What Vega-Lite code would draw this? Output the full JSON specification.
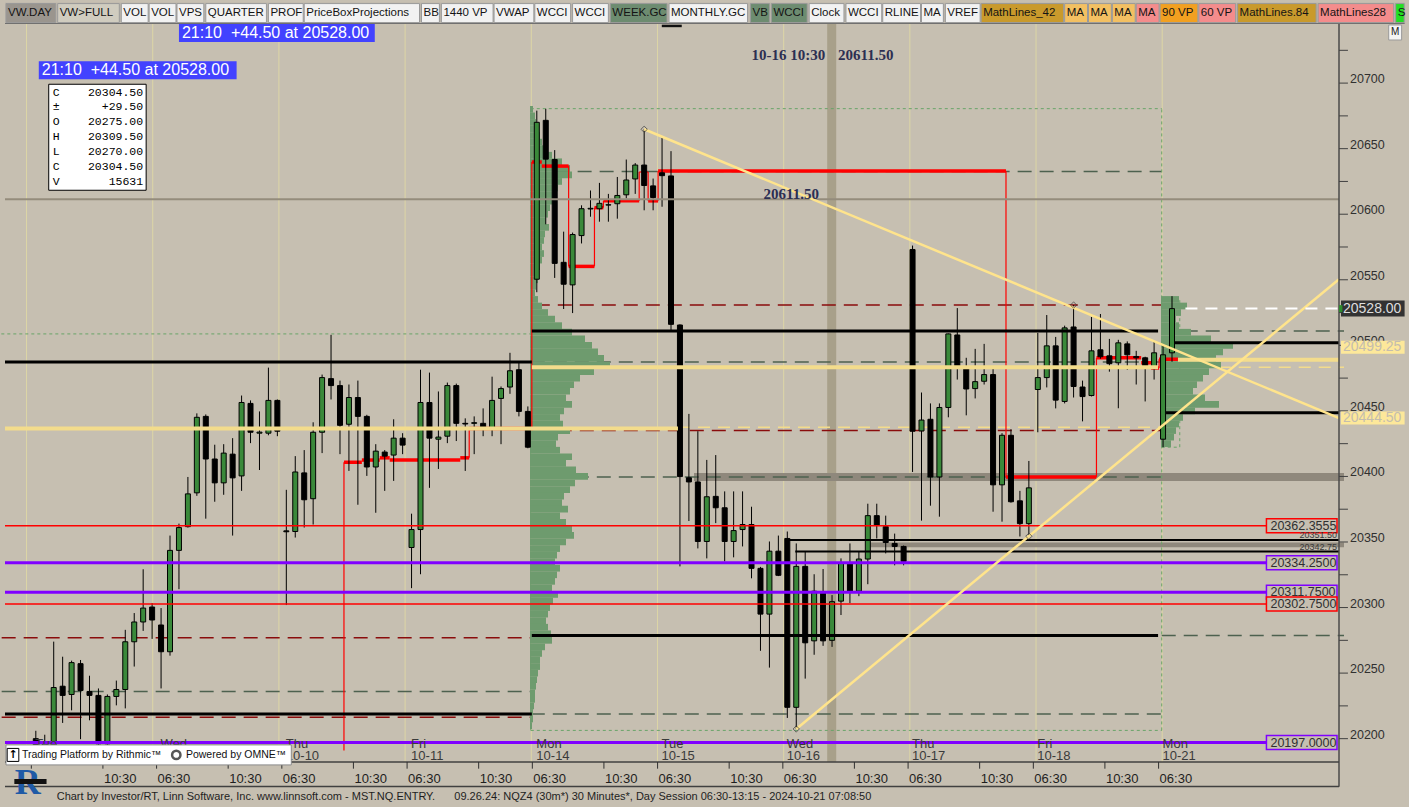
{
"$schema": "https://vega.github.io/schema/vega-lite/v6.json",
"width": 1409, "height": 807,
"autosize": {"type": "fit", "contains": "padding"},
"padding": 0,
"background": "#c6bfb1",
"config": {"view": {"stroke": null, "fill": "#c6bfb1"}, "font": "Liberation Sans"},
"datasets": {
"candles": [
{"n":0,"o":20200,"h":20206,"l":20184,"c":20193},
{"n":1,"o":20190,"h":20203,"l":20185,"c":20196},
{"n":2,"o":20193,"h":20274,"l":20186,"c":20239},
{"n":3,"o":20240,"h":20262.5,"l":20212,"c":20233},
{"n":4,"o":20233.7,"h":20259.5,"l":20221.6,"c":20258},
{"n":5,"o":20257.2,"h":20260,"l":20199.6,"c":20236.7},
{"n":6,"o":20236,"h":20248,"l":20214,"c":20233},
{"n":7,"o":20233,"h":20238.3,"l":20188,"c":20196},
{"n":8,"o":20196,"h":20233.7,"l":20188,"c":20232.2},
{"n":9,"o":20232.2,"h":20244.3,"l":20225.4,"c":20237.5},
{"n":10,"o":20237.5,"h":20283,"l":20223.1,"c":20273.9},
{"n":11,"o":20273.9,"h":20295.8,"l":20255,"c":20289},
{"n":12,"o":20289,"h":20329.2,"l":20282.2,"c":20299.6},
{"n":13,"o":20300.4,"h":20303.4,"l":20276.1,"c":20290.5},
{"n":14,"o":20286.7,"h":20299.6,"l":20238.3,"c":20266.3},
{"n":15,"o":20266.3,"h":20354.9,"l":20263.3,"c":20343.6},
{"n":16,"o":20343.6,"h":20364,"l":20314,"c":20361},
{"n":17,"o":20361.7,"h":20399.6,"l":20361,"c":20386.7},
{"n":18,"o":20387.5,"h":20448.1,"l":20385.2,"c":20445.1},
{"n":19,"o":20445.8,"h":20447.3,"l":20367.8,"c":20413.3},
{"n":20,"o":20413.3,"h":20424.2,"l":20380.7,"c":20395.1},
{"n":21,"o":20395.1,"h":20424.6,"l":20386,"c":20417.8},
{"n":22,"o":20417,"h":20429.2,"l":20354.9,"c":20398.9},
{"n":23,"o":20400.4,"h":20461.7,"l":20389,"c":20456.4},
{"n":24,"o":20455.7,"h":20458,"l":20425.4,"c":20433.7},
{"n":25,"o":20433,"h":20449.6,"l":20404.9,"c":20433.8},
{"n":26,"o":20433,"h":20483,"l":20431.4,"c":20458},
{"n":27,"o":20458,"h":20458.7,"l":20430.7,"c":20434.5},
{"n":28,"o":20358.5,"h":20389.8,"l":20301.9,"c":20357.8},
{"n":29,"o":20358,"h":20415.5,"l":20353.4,"c":20403.4},
{"n":30,"o":20402.7,"h":20420.1,"l":20361,"c":20382.2},
{"n":31,"o":20383,"h":20441.3,"l":20363.3,"c":20433.7},
{"n":32,"o":20433.7,"h":20477.7,"l":20417.8,"c":20475.4},
{"n":33,"o":20474.6,"h":20508,"l":20458.7,"c":20469.3},
{"n":34,"o":20469.3,"h":20473.1,"l":20417,"c":20439},
{"n":35,"o":20439.8,"h":20470.1,"l":20404.2,"c":20460.2},
{"n":36,"o":20460.2,"h":20473.1,"l":20378.4,"c":20445.8},
{"n":37,"o":20445.8,"h":20447,"l":20400.4,"c":20407.2},
{"n":38,"o":20407.2,"h":20424.6,"l":20372.3,"c":20419.3},
{"n":39,"o":20418.6,"h":20420.1,"l":20389,"c":20415.5},
{"n":40,"o":20416.3,"h":20443.6,"l":20396.6,"c":20429.2},
{"n":41,"o":20429.2,"h":20433,"l":20417,"c":20423.9},
{"n":42,"o":20345.8,"h":20371.6,"l":20314.8,"c":20359.5},
{"n":43,"o":20359.5,"h":20481.4,"l":20325.4,"c":20456.4},
{"n":44,"o":20456.4,"h":20479.2,"l":20391.3,"c":20429.2},
{"n":45,"o":20428.4,"h":20464.8,"l":20405.7,"c":20430},
{"n":46,"o":20430.7,"h":20471.6,"l":20425.4,"c":20469.3},
{"n":47,"o":20469.3,"h":20470.8,"l":20427,"c":20440.5},
{"n":48,"o":20440.5,"h":20444.3,"l":20404.2,"c":20440},
{"n":49,"o":20440.5,"h":20445.8,"l":20417,"c":20441},
{"n":50,"o":20440.5,"h":20451.9,"l":20430.7,"c":20436.7},
{"n":51,"o":20436.7,"h":20476.1,"l":20430.7,"c":20458},
{"n":52,"o":20459.5,"h":20468.6,"l":20424.6,"c":20467},
{"n":53,"o":20468.2,"h":20494.3,"l":20463,"c":20480.6},
{"n":54,"o":20481.4,"h":20486.7,"l":20445.8,"c":20449.6},
{"n":55,"o":20449.6,"h":20453.4,"l":20421.5,"c":20422.3},
{"n":56,"o":20550.4,"h":20679,"l":20540.5,"c":20670.1},
{"n":57,"o":20671.6,"h":20680.4,"l":20592.3,"c":20642},
{"n":58,"o":20641.7,"h":20648.9,"l":20551.4,"c":20562.5},
{"n":59,"o":20563.3,"h":20586.7,"l":20527.7,"c":20546.6},
{"n":60,"o":20546.1,"h":20586,"l":20524.6,"c":20584.5},
{"n":61,"o":20583.7,"h":20606.8,"l":20577.7,"c":20604.2},
{"n":62,"o":20604,"h":20618.1,"l":20598.1,"c":20604.5},
{"n":63,"o":20604.2,"h":20623.9,"l":20594.3,"c":20608.3},
{"n":64,"o":20607,"h":20615.5,"l":20594.3,"c":20607.2},
{"n":65,"o":20608,"h":20628.4,"l":20596.6,"c":20614.3},
{"n":66,"o":20614.8,"h":20641.7,"l":20612.1,"c":20626.1},
{"n":67,"o":20626.9,"h":20639,"l":20615.5,"c":20637.5},
{"n":68,"o":20637.5,"h":20664.8,"l":20603,"c":20621.9},
{"n":69,"o":20621.6,"h":20627.2,"l":20603,"c":20612.7},
{"n":70,"o":20631.6,"h":20658.3,"l":20605.7,"c":20629.4},
{"n":71,"o":20629.2,"h":20648.1,"l":20510.6,"c":20516},
{"n":72,"o":20515.5,"h":20516,"l":20331.4,"c":20399.9},
{"n":73,"o":20399,"h":20447.7,"l":20366,"c":20395.8},
{"n":74,"o":20395.8,"h":20434.5,"l":20345.1,"c":20350.4},
{"n":75,"o":20350.4,"h":20412.6,"l":20337.5,"c":20384.5},
{"n":76,"o":20384.8,"h":20416.3,"l":20364.4,"c":20376.1},
{"n":77,"o":20376.1,"h":20388.6,"l":20335.2,"c":20350.4},
{"n":78,"o":20350.4,"h":20388.6,"l":20338.3,"c":20358.7},
{"n":79,"o":20359.5,"h":20388.6,"l":20346.6,"c":20363.3},
{"n":80,"o":20363.3,"h":20376.9,"l":20322.3,"c":20329.9},
{"n":81,"o":20329.9,"h":20331,"l":20267,"c":20295},
{"n":82,"o":20295,"h":20350.4,"l":20254.2,"c":20343},
{"n":83,"o":20343,"h":20354.9,"l":20324,"c":20324.6},
{"n":84,"o":20352.7,"h":20358,"l":20215.8,"c":20223.9},
{"n":85,"o":20223.9,"h":20348.9,"l":20207.4,"c":20331.4},
{"n":86,"o":20331.4,"h":20342.8,"l":20245.8,"c":20273.1},
{"n":87,"o":20274.6,"h":20325.4,"l":20264,"c":20312.5},
{"n":88,"o":20311,"h":20329.4,"l":20270.8,"c":20274.6},
{"n":89,"o":20275,"h":20309.5,"l":20270,"c":20304.5},
{"n":90,"o":20304.9,"h":20337.5,"l":20294.3,"c":20333.9},
{"n":91,"o":20333.9,"h":20348.9,"l":20303.4,"c":20312.5},
{"n":92,"o":20312.5,"h":20342.8,"l":20308.7,"c":20337},
{"n":93,"o":20337,"h":20379.2,"l":20317.8,"c":20370.1},
{"n":94,"o":20370.1,"h":20379.2,"l":20352.7,"c":20362.6},
{"n":95,"o":20361.7,"h":20370.1,"l":20341.3,"c":20349.6},
{"n":96,"o":20348.9,"h":20356.4,"l":20332.2,"c":20346.6},
{"n":97,"o":20346.6,"h":20347.3,"l":20332.2,"c":20335.2},
{"n":98,"o":20573.1,"h":20576.1,"l":20403.4,"c":20434.5},
{"n":99,"o":20434.7,"h":20464,"l":20366.3,"c":20443},
{"n":100,"o":20443.6,"h":20455.7,"l":20377.7,"c":20399.6},
{"n":101,"o":20399.6,"h":20455.7,"l":20369.3,"c":20452.6},
{"n":102,"o":20452.6,"h":20509,"l":20445.1,"c":20508.7},
{"n":103,"o":20507.9,"h":20528.4,"l":20473.9,"c":20483.7},
{"n":104,"o":20483.7,"h":20490.5,"l":20446.6,"c":20466.7},
{"n":105,"o":20467,"h":20497.3,"l":20459.5,"c":20472.3},
{"n":106,"o":20472.6,"h":20501.1,"l":20470.1,"c":20477.7},
{"n":107,"o":20477.7,"h":20483.7,"l":20373.1,"c":20393.6},
{"n":108,"o":20393.6,"h":20433,"l":20365.5,"c":20431.4},
{"n":109,"o":20431.4,"h":20436,"l":20380,"c":20380.7},
{"n":110,"o":20381.4,"h":20389,"l":20354.2,"c":20364},
{"n":111,"o":20364,"h":20411.8,"l":20355,"c":20391.3},
{"n":112,"o":20466.3,"h":20509.5,"l":20433.7,"c":20475.4},
{"n":113,"o":20475.4,"h":20523.1,"l":20467.9,"c":20499.6},
{"n":114,"o":20499.6,"h":20506.4,"l":20451.9,"c":20458.2},
{"n":115,"o":20457.2,"h":20515,"l":20455.7,"c":20513.3},
{"n":116,"o":20514,"h":20530.7,"l":20460.2,"c":20468.6},
{"n":117,"o":20468.2,"h":20473.1,"l":20442,"c":20460.9},
{"n":118,"o":20461.7,"h":20521.6,"l":20461,"c":20495.8},
{"n":119,"o":20496.6,"h":20523.9,"l":20489.8,"c":20491.3},
{"n":120,"o":20492,"h":20504.9,"l":20479.9,"c":20486},
{"n":121,"o":20486.7,"h":20504.2,"l":20452,"c":20501.9},
{"n":122,"o":20501.1,"h":20503,"l":20481.4,"c":20492.8},
{"n":123,"o":20491.5,"h":20495.8,"l":20470.1,"c":20490.5},
{"n":124,"o":20490.5,"h":20491.3,"l":20457.2,"c":20483.7},
{"n":125,"o":20482.2,"h":20502.7,"l":20473.9,"c":20494.3},
{"n":126,"o":20428.4,"h":20500.4,"l":20422.3,"c":20492.8},
{"n":127,"o":20494.3,"h":20537.5,"l":20487.5,"c":20528}
],
"prof1": [
{"p":20680,"v":3},{"p":20675,"v":5},{"p":20670,"v":6},{"p":20665,"v":8},{"p":20660,"v":10},{"p":20655,"v":12},{"p":20650,"v":15},{"p":20645,"v":22},{"p":20640,"v":32},{"p":20635,"v":40},{"p":20630,"v":42},{"p":20625,"v":32},{"p":20620,"v":28},{"p":20615,"v":25},{"p":20610,"v":24},{"p":20605,"v":20},{"p":20600,"v":18},{"p":20595,"v":16},{"p":20590,"v":19},{"p":20585,"v":15},{"p":20580,"v":14},{"p":20575,"v":12},{"p":20570,"v":14},{"p":20565,"v":12},{"p":20560,"v":10},{"p":20555,"v":9},{"p":20550,"v":8},{"p":20545,"v":6},{"p":20540,"v":5},{"p":20535,"v":8},{"p":20530,"v":12},{"p":20525,"v":18},{"p":20520,"v":25},{"p":20515,"v":32},{"p":20510,"v":42},{"p":20505,"v":55},{"p":20500,"v":62},{"p":20495,"v":68},{"p":20490,"v":74},{"p":20485,"v":80},{"p":20480,"v":64},{"p":20475,"v":50},{"p":20470,"v":44},{"p":20465,"v":40},{"p":20460,"v":36},{"p":20455,"v":42},{"p":20450,"v":34},{"p":20445,"v":30},{"p":20440,"v":33},{"p":20435,"v":40},{"p":20430,"v":28},{"p":20425,"v":26},{"p":20420,"v":30},{"p":20415,"v":42},{"p":20410,"v":36},{"p":20405,"v":46},{"p":20400,"v":58},{"p":20395,"v":45},{"p":20390,"v":40},{"p":20385,"v":34},{"p":20380,"v":32},{"p":20375,"v":38},{"p":20370,"v":30},{"p":20365,"v":36},{"p":20360,"v":42},{"p":20355,"v":44},{"p":20350,"v":36},{"p":20345,"v":30},{"p":20340,"v":27},{"p":20335,"v":25},{"p":20330,"v":30},{"p":20325,"v":27},{"p":20320,"v":25},{"p":20315,"v":22},{"p":20310,"v":28},{"p":20305,"v":23},{"p":20300,"v":20},{"p":20295,"v":18},{"p":20290,"v":16},{"p":20285,"v":18},{"p":20280,"v":21},{"p":20275,"v":22},{"p":20270,"v":15},{"p":20265,"v":12},{"p":20260,"v":10},{"p":20255,"v":10},{"p":20250,"v":8},{"p":20245,"v":7},{"p":20240,"v":6},{"p":20235,"v":5},{"p":20230,"v":5},{"p":20225,"v":4},{"p":20220,"v":3},{"p":20215,"v":3},{"p":20210,"v":2}
],
"prof2": [
{"p":20535,"v":18},{"p":20530,"v":26},{"p":20525,"v":20},{"p":20520,"v":15},{"p":20515,"v":18},{"p":20510,"v":30},{"p":20505,"v":50},{"p":20500,"v":72},{"p":20495,"v":62},{"p":20490,"v":55},{"p":20485,"v":60},{"p":20480,"v":48},{"p":20475,"v":42},{"p":20470,"v":36},{"p":20465,"v":32},{"p":20460,"v":44},{"p":20455,"v":58},{"p":20450,"v":34},{"p":20445,"v":22},{"p":20440,"v":18},{"p":20435,"v":15},{"p":20430,"v":13},{"p":20425,"v":10}
],
"days": [
{"n":-0.5,"d":"Tue","t":"10-08"},{"n":13.5,"d":"Wed","t":"10-09"},{"n":27.5,"d":"Thu","t":"10-10"},{"n":41.5,"d":"Fri","t":"10-11"},{"n":55.5,"d":"Mon","t":"10-14"},{"n":69.5,"d":"Tue","t":"10-15"},{"n":83.5,"d":"Wed","t":"10-16"},{"n":97.5,"d":"Thu","t":"10-17"},{"n":111.5,"d":"Fri","t":"10-18"},{"n":125.5,"d":"Mon","t":"10-21"}
],
"xticks": [
{"n":-0.5,"t":""},{"n":7.5,"t":"10:30"},{"n":13.5,"t":"06:30"},{"n":21.5,"t":"10:30"},{"n":27.5,"t":"06:30"},{"n":35.5,"t":"10:30"},{"n":41.5,"t":"06:30"},{"n":49.5,"t":"10:30"},{"n":55.5,"t":"06:30"},{"n":63.5,"t":"10:30"},{"n":69.5,"t":"06:30"},{"n":77.5,"t":"10:30"},{"n":83.5,"t":"06:30"},{"n":91.5,"t":"10:30"},{"n":97.5,"t":"06:30"},{"n":105.5,"t":"10:30"},{"n":111.5,"t":"06:30"},{"n":119.5,"t":"10:30"},{"n":125.5,"t":"06:30"}
],
"yticks": [
{"p":20200,"t":"20200"},{"p":20225,"t":""},{"p":20250,"t":"20250"},{"p":20275,"t":""},{"p":20300,"t":"20300"},{"p":20325,"t":""},{"p":20350,"t":"20350"},{"p":20375,"t":""},{"p":20400,"t":"20400"},{"p":20425,"t":""},{"p":20450,"t":"20450"},{"p":20475,"t":""},{"p":20500,"t":"20500"},{"p":20525,"t":""},{"p":20550,"t":"20550"},{"p":20575,"t":""},{"p":20600,"t":"20600"},{"p":20625,"t":""},{"p":20650,"t":"20650"},{"p":20675,"t":""},{"p":20700,"t":"20700"},{"p":20725,"t":""}
],
"gband": [{"a":73.556,"b":145.6667,"lo":20396.5,"hi":20402.6},{"a":93,"b":145.6667,"lo":20345.9,"hi":20349.6}],
"hGrayDash": [{"p":20487.3,"a":55.444,"b":125.444},{"p":20511,"a":125.444,"b":145.6667},{"p":20278.6,"a":125.444,"b":145.6667},{"p":20218.8,"a":55.444,"b":125.444},{"p":20632.6,"a":58.2,"b":125.444},{"p":20236,"a":-3.26,"b":55.444},{"p":20399.6,"a":55.444,"b":125.444}],
"hRedDash": [{"p":20530.8,"a":56,"b":125.444},{"p":20435,"a":56,"b":125.444},{"p":20277,"a":-3.26,"b":55.444},{"p":20216.3,"a":-3.26,"b":55.444}],
"hGreenDot": [{"p":20680.5,"a":55.444,"b":125.444},{"p":20206.3,"a":55.444,"b":125.444},{"p":20508.7,"a":-3.3,"b":55.444},{"p":20535,"a":125.444,"b":127.444},{"p":20422.3,"a":125.444,"b":127.444}],
"vGreenDot": [{"n":55.444,"a":20206.3,"b":20680.5},{"n":125.444,"a":20206.3,"b":20680.5},{"n":127.444,"a":20422.3,"b":20535}],
"hYellowDash": [{"p":20437.5,"a":71.778,"b":125.444},{"p":20483.2,"a":127.333,"b":145.6667}],
"redStepH": [{"p":20410.8,"a":34.444,"b":36.444},{"p":20412.5,"a":36.444,"b":38.444},{"p":20414.2,"a":38.444,"b":39.556},{"p":20412.5,"a":39.556,"b":47.444},{"p":20414.2,"a":47.444,"b":48.444},{"p":20436.6,"a":48.444,"b":55.556},{"p":20639.8,"a":55.444,"b":56.556},{"p":20636.7,"a":56.556,"b":59.556},{"p":20560.2,"a":59.556,"b":62.444},{"p":20605,"a":62.444,"b":63.444},{"p":20610.2,"a":63.444,"b":67.444},{"p":20610.2,"a":68.444,"b":69.556},{"p":20632.9,"a":69.556,"b":108.444},{"p":20399.6,"a":108.444,"b":118.556},{"p":20490.5,"a":118.556,"b":123.556},{"p":20486.7,"a":123.556,"b":124.667},{"p":20482.7,"a":124.667,"b":125.556},{"p":20489.4,"a":125.556,"b":127.667}],
"redThin": [{"x1":34.444,"x2":34.444,"y1":20410.8,"y2":20191},{"x1":48.444,"x2":48.444,"y1":20414.2,"y2":20436.6},{"x1":55.444,"x2":55.444,"y1":20436.6,"y2":20639.8},{"x1":59.556,"x2":59.556,"y1":20636.7,"y2":20560.2},{"x1":62.444,"x2":62.444,"y1":20560.2,"y2":20605},{"x1":63.444,"x2":63.444,"y1":20605,"y2":20610.2},{"x1":67.444,"x2":67.444,"y1":20610.2,"y2":20632.2},{"x1":67.444,"x2":68.444,"y1":20632.2,"y2":20632.2},{"x1":68.444,"x2":68.444,"y1":20632.2,"y2":20610.2},{"x1":69.556,"x2":69.556,"y1":20610.2,"y2":20632.9},{"x1":108.444,"x2":108.444,"y1":20632.9,"y2":20399.6},{"x1":118.556,"x2":118.556,"y1":20399.6,"y2":20490.5},{"x1":125.556,"x2":125.556,"y1":20482.7,"y2":20489.4}],
"hBlack": [{"p":20487.3,"a":-3.4444,"b":55.444},{"p":20511,"a":55.444,"b":125.444},{"p":20501.9,"a":127.333,"b":145.6667},{"p":20448.6,"a":126.333,"b":145.6667},{"p":20278.6,"a":55.444,"b":125.444},{"p":20218.8,"a":-3.4444,"b":55.444}],
"hBlackThin": [{"p":20351.5,"a":84,"b":145.6667},{"p":20342.75,"a":84.889,"b":145.6667}],
"hYellow": [{"p":20436.5,"a":-3.4444,"b":71.778},{"p":20483.2,"a":55.444,"b":125.444},{"p":20489,"a":127.667,"b":145.6667}],
"hRed": [{"p":20362.3555,"a":-3.4444,"b":137.556},{"p":20302.75,"a":-3.4444,"b":137.556}],
"hPurple": [{"p":20334.25,"a":-3.4444,"b":137.556},{"p":20311.75,"a":-3.4444,"b":137.556},{"p":20197,"a":-3.4444,"b":137.556}],
"trend": [{"x1":68,"y1":20664.8,"x2":145.6667,"y2":20444.5},{"x1":85,"y1":20207.4,"x2":145.6667,"y2":20550.4}],
"pivots": [{"n":68,"p":20664.8},{"n":116,"p":20530.7},{"n":85,"p":20207.4},{"n":111,"p":20354.4}],
"boxLabels": [{"p":20362.3555,"t":"20362.3555","k":"red"},{"p":20334.25,"t":"20334.2500","k":"purple"},{"p":20311.75,"t":"20311.7500","k":"purple"},{"p":20302.75,"t":"20302.7500","k":"red"},{"p":20197,"t":"20197.0000","k":"purple"}],
"smallLabels": [{"p":20351.5,"t":"20351.50"},{"p":20342.75,"t":"20342.75"}],
"ylab": [{"p":20498.6,"t":"20499.25"},{"p":20444.6,"t":"20444.50"}],
"ohlc": [{"k":"C","v":"20304.50","p":20692.8},{"k":"±","v":"+29.50","p":20681.4},{"k":"O","v":"20275.00","p":20670.1},{"k":"H","v":"20309.50","p":20658.7},{"k":"L","v":"20270.00","p":20647.4},{"k":"C","v":"20304.50","p":20636.0},{"k":"V","v":"15631","p":20624.6}],
"blue": [{"t":"21:10\u00a0\u00a0+44.50 at 20528.00","a":16.0,"b":37.889,"p":20738.3},{"t":"21:10\u00a0\u00a0+44.50 at 20528.00","a":0.333,"b":22.444,"p":20709.85}],
"toolbar": [
{"t":"VW.DAY","a":-3.333,"b":2.222,"k":"dk"},{"t":"VW>FULL","a":2.444,"b":9.333,"k":"lt"},{"t":"VOL","a":9.556,"b":12.556,"k":"wh"},{"t":"VOL","a":12.667,"b":15.667,"k":"wh"},{"t":"VPS","a":15.778,"b":18.778,"k":"wh"},{"t":"QUARTER","a":19.0,"b":25.778,"k":"wh"},{"t":"PROF","a":26.0,"b":29.889,"k":"wh"},{"t":"PriceBoxProjections","a":30.0,"b":42.889,"k":"wh"},{"t":"BB","a":43.111,"b":45.111,"k":"wh"},{"t":"1440 VP","a":45.333,"b":51.111,"k":"wh"},{"t":"VWAP","a":51.222,"b":55.667,"k":"wh"},{"t":"WCCI","a":55.778,"b":59.778,"k":"wh"},{"t":"WCCI","a":60.0,"b":64.0,"k":"wh"},{"t":"WEEK.GC","a":64.222,"b":70.556,"k":"gg"},{"t":"MONTHLY.GC","a":70.778,"b":79.556,"k":"wh"},{"t":"VB","a":79.889,"b":82.0,"k":"gg"},{"t":"WCCI","a":82.222,"b":86.222,"k":"gg"},{"t":"Clock","a":86.444,"b":90.333,"k":"wh"},{"t":"WCCI","a":90.556,"b":94.556,"k":"wh"},{"t":"RLINE","a":94.667,"b":98.889,"k":"wh"},{"t":"MA","a":99.0,"b":101.444,"k":"wh"},{"t":"VREF","a":101.667,"b":105.556,"k":"wh"},{"t":"MathLines_42","a":105.667,"b":114.889,"k":"ol"},{"t":"MA","a":115.0,"b":117.556,"k":"or"},{"t":"MA","a":117.667,"b":120.222,"k":"or"},{"t":"MA","a":120.333,"b":122.889,"k":"or"},{"t":"MA","a":123.0,"b":125.556,"k":"pk"},{"t":"90 VP","a":125.667,"b":129.889,"k":"og"},{"t":"60 VP","a":130.0,"b":134.111,"k":"pk"},{"t":"MathLines.84","a":134.333,"b":143.111,"k":"ol"},{"t":"MathLines28","a":143.333,"b":151.778,"k":"pk"},{"t":"S","a":152.0,"b":152.95,"k":"gr"}
]
},
"resolve": {"scale": {"x": "independent"}},
"layer": [
{"layer": [
 {"data": {"name": "days"}, "mark": {"type": "rule", "color": "#ddd6a6", "strokeWidth": 1, "clip": true},
  "encoding": {
   "x": {"field": "n", "type": "quantitative", "scale": {"domain": [-3.4444, 145.6667], "nice": false, "zero": false}, "axis": null},
   "y": {"datum": 20182.2, "type": "quantitative", "scale": {"domain": [20182.2, 20745.08], "nice": false, "zero": false}, "axis": null},
   "y2": {"datum": 20745.08}}},
 {"data": {"values": [{}]}, "mark": {"type": "rect", "color": "#a8a08a", "clip": true},
  "encoding": {"x": {"datum": 88.33, "type": "quantitative", "scale": {"domain": [-3.4444, 145.6667], "nice": false, "zero": false}, "axis": null}, "x2": {"datum": 89.33},
   "y": {"datum": 20182.2, "type": "quantitative", "scale": {"domain": [20182.2, 20745.08], "nice": false, "zero": false}, "axis": null}, "y2": {"datum": 20745.08}}},
 {"data": {"name": "gband"}, "mark": {"type": "rect", "color": "#8f887c", "clip": true},
  "encoding": {"x": {"field": "a", "type": "quantitative", "scale": {"domain": [-3.4444, 145.6667], "nice": false, "zero": false}, "axis": null}, "x2": {"field": "b"},
   "y": {"field": "lo", "type": "quantitative", "scale": {"domain": [20182.2, 20745.08], "nice": false, "zero": false}, "axis": null}, "y2": {"field": "hi"}}},
 {"data": {"name": "hGrayDash"}, "mark": {"type": "rule", "color": "#4d614f", "strokeWidth": 1.5, "strokeDash": [14, 8], "clip": true},
  "encoding": {"x": {"field": "a", "type": "quantitative", "scale": {"domain": [-3.4444, 145.6667], "nice": false, "zero": false}, "axis": null}, "x2": {"field": "b"},
   "y": {"field": "p", "type": "quantitative", "scale": {"domain": [20182.2, 20745.08], "nice": false, "zero": false}, "axis": null}}},
 {"data": {"name": "hRedDash"}, "mark": {"type": "rule", "color": "#8a0c0c", "strokeWidth": 1.5, "strokeDash": [14, 8], "clip": true},
  "encoding": {"x": {"field": "a", "type": "quantitative", "scale": {"domain": [-3.4444, 145.6667], "nice": false, "zero": false}, "axis": null}, "x2": {"field": "b"},
   "y": {"field": "p", "type": "quantitative", "scale": {"domain": [20182.2, 20745.08], "nice": false, "zero": false}, "axis": null}}},
 {"data": {"name": "hGreenDot"}, "mark": {"type": "rule", "color": "#68a468", "strokeWidth": 1, "strokeDash": [3, 3], "clip": true},
  "encoding": {"x": {"field": "a", "type": "quantitative", "scale": {"domain": [-3.4444, 145.6667], "nice": false, "zero": false}, "axis": null}, "x2": {"field": "b"},
   "y": {"field": "p", "type": "quantitative", "scale": {"domain": [20182.2, 20745.08], "nice": false, "zero": false}, "axis": null}}},
 {"data": {"name": "vGreenDot"}, "mark": {"type": "rule", "color": "#68a468", "strokeWidth": 1, "strokeDash": [3, 3], "clip": true},
  "encoding": {"x": {"field": "n", "type": "quantitative", "scale": {"domain": [-3.4444, 145.6667], "nice": false, "zero": false}, "axis": null},
   "y": {"field": "a", "type": "quantitative", "scale": {"domain": [20182.2, 20745.08], "nice": false, "zero": false}, "axis": null}, "y2": {"field": "b"}}},
 {"data": {"name": "hYellowDash"}, "mark": {"type": "rule", "color": "#f3dc8c", "strokeWidth": 1.5, "strokeDash": [12, 8], "clip": true},
  "encoding": {"x": {"field": "a", "type": "quantitative", "scale": {"domain": [-3.4444, 145.6667], "nice": false, "zero": false}, "axis": null}, "x2": {"field": "b"},
   "y": {"field": "p", "type": "quantitative", "scale": {"domain": [20182.2, 20745.08], "nice": false, "zero": false}, "axis": null}}}
]},
{"data": {"name": "prof1"}, "mark": {"type": "bar", "orient": "horizontal", "size": 6.7, "color": "#6e9b6e", "clip": true},
 "encoding": {"x": {"field": "v", "type": "quantitative", "scale": {"domain": [0, 100], "range": [530, 630], "nice": false, "zero": true}, "axis": null}, "x2": {"datum": 0},
  "y": {"field": "p", "type": "quantitative", "scale": {"domain": [20182.2, 20745.08], "nice": false, "zero": false}, "axis": null}}},
{"data": {"name": "prof2"}, "mark": {"type": "bar", "orient": "horizontal", "size": 6.7, "color": "#6e9b6e", "clip": true},
 "encoding": {"x": {"field": "v", "type": "quantitative", "scale": {"domain": [0, 100], "range": [1161, 1261], "nice": false, "zero": true}, "axis": null}, "x2": {"datum": 0},
  "y": {"field": "p", "type": "quantitative", "scale": {"domain": [20182.2, 20745.08], "nice": false, "zero": false}, "axis": null}}},
{"layer": [
 {"data": {"name": "redStepH"}, "mark": {"type": "bar", "orient": "horizontal", "size": 3.5, "color": "#ff0000", "clip": true},
  "encoding": {"x": {"field": "a", "type": "quantitative", "scale": {"domain": [-3.4444, 145.6667], "nice": false, "zero": false}, "axis": null}, "x2": {"field": "b"},
   "y": {"field": "p", "type": "quantitative", "scale": {"domain": [20182.2, 20745.08], "nice": false, "zero": false}, "axis": null}}},
 {"data": {"name": "redThin"}, "mark": {"type": "rule", "color": "#ff0000", "strokeWidth": 1.2, "clip": true},
  "encoding": {"x": {"field": "x1", "type": "quantitative", "scale": {"domain": [-3.4444, 145.6667], "nice": false, "zero": false}, "axis": null}, "x2": {"field": "x2"},
   "y": {"field": "y1", "type": "quantitative", "scale": {"domain": [20182.2, 20745.08], "nice": false, "zero": false}, "axis": null}, "y2": {"field": "y2"}}},
 {"data": {"name": "candles"}, "mark": {"type": "rule", "color": "#000000", "strokeWidth": 1, "clip": true},
  "encoding": {"x": {"field": "n", "type": "quantitative", "scale": {"domain": [-3.4444, 145.6667], "nice": false, "zero": false}, "axis": null},
   "y": {"field": "l", "type": "quantitative", "scale": {"domain": [20182.2, 20745.08], "nice": false, "zero": false}, "axis": null}, "y2": {"field": "h"}}},
 {"data": {"name": "candles"}, "mark": {"type": "bar", "size": 5, "stroke": "#000000", "strokeWidth": 1, "clip": true},
  "encoding": {"x": {"field": "n", "type": "quantitative", "scale": {"domain": [-3.4444, 145.6667], "nice": false, "zero": false}, "axis": null},
   "y": {"field": "o", "type": "quantitative", "scale": {"domain": [20182.2, 20745.08], "nice": false, "zero": false}, "axis": null},
   "y2": {"field": "c"},
   "color": {"condition": {"test": "datum.c > datum.o", "value": "#3a893a"}, "value": "#000000"}}},
 {"data": {"name": "hBlack"}, "mark": {"type": "bar", "orient": "horizontal", "size": 3, "color": "#000000", "clip": true},
  "encoding": {"x": {"field": "a", "type": "quantitative", "scale": {"domain": [-3.4444, 145.6667], "nice": false, "zero": false}, "axis": null}, "x2": {"field": "b"},
   "y": {"field": "p", "type": "quantitative", "scale": {"domain": [20182.2, 20745.08], "nice": false, "zero": false}, "axis": null}}},
 {"data": {"name": "hBlackThin"}, "mark": {"type": "bar", "orient": "horizontal", "size": 2, "color": "#000000", "clip": true},
  "encoding": {"x": {"field": "a", "type": "quantitative", "scale": {"domain": [-3.4444, 145.6667], "nice": false, "zero": false}, "axis": null}, "x2": {"field": "b"},
   "y": {"field": "p", "type": "quantitative", "scale": {"domain": [20182.2, 20745.08], "nice": false, "zero": false}, "axis": null}}},
 {"data": {"name": "hYellow"}, "mark": {"type": "bar", "orient": "horizontal", "size": 4, "color": "#f3dc8c", "clip": true},
  "encoding": {"x": {"field": "a", "type": "quantitative", "scale": {"domain": [-3.4444, 145.6667], "nice": false, "zero": false}, "axis": null}, "x2": {"field": "b"},
   "y": {"field": "p", "type": "quantitative", "scale": {"domain": [20182.2, 20745.08], "nice": false, "zero": false}, "axis": null}}},
 {"data": {"name": "hRed"}, "mark": {"type": "bar", "orient": "horizontal", "size": 1.5, "color": "#ff0000", "clip": true},
  "encoding": {"x": {"field": "a", "type": "quantitative", "scale": {"domain": [-3.4444, 145.6667], "nice": false, "zero": false}, "axis": null}, "x2": {"field": "b"},
   "y": {"field": "p", "type": "quantitative", "scale": {"domain": [20182.2, 20745.08], "nice": false, "zero": false}, "axis": null}}},
 {"data": {"name": "hPurple"}, "mark": {"type": "bar", "orient": "horizontal", "size": 3, "color": "#8000ff", "clip": true},
  "encoding": {"x": {"field": "a", "type": "quantitative", "scale": {"domain": [-3.4444, 145.6667], "nice": false, "zero": false}, "axis": null}, "x2": {"field": "b"},
   "y": {"field": "p", "type": "quantitative", "scale": {"domain": [20182.2, 20745.08], "nice": false, "zero": false}, "axis": null}}},
 {"data": {"values": [{"p": 20611.5}]}, "mark": {"type": "bar", "orient": "horizontal", "size": 2, "color": "#948c7c", "clip": true},
  "encoding": {"x": {"datum": -3.4444, "type": "quantitative", "scale": {"domain": [-3.4444, 145.6667], "nice": false, "zero": false}, "axis": null}, "x2": {"datum": 145.6667},
   "y": {"field": "p", "type": "quantitative", "scale": {"domain": [20182.2, 20745.08], "nice": false, "zero": false}, "axis": null}}},
 {"data": {"name": "trend"}, "mark": {"type": "rule", "color": "#ffe48c", "strokeWidth": 2.5, "clip": true},
  "encoding": {"x": {"field": "x1", "type": "quantitative", "scale": {"domain": [-3.4444, 145.6667], "nice": false, "zero": false}, "axis": null}, "x2": {"field": "x2"},
   "y": {"field": "y1", "type": "quantitative", "scale": {"domain": [20182.2, 20745.08], "nice": false, "zero": false}, "axis": null}, "y2": {"field": "y2"}}},
 {"data": {"name": "pivots"}, "mark": {"type": "point", "shape": "diamond", "size": 40, "stroke": "#3a3a3a", "strokeWidth": 1, "filled": false, "clip": true},
  "encoding": {"x": {"field": "n", "type": "quantitative", "scale": {"domain": [-3.4444, 145.6667], "nice": false, "zero": false}, "axis": null},
   "y": {"field": "p", "type": "quantitative", "scale": {"domain": [20182.2, 20745.08], "nice": false, "zero": false}, "axis": null}}},
 {"data": {"values": [{"p": 20528}]}, "mark": {"type": "rule", "color": "#ffffff", "strokeWidth": 2, "strokeDash": [12, 8], "clip": true},
  "encoding": {"x": {"datum": 128.5, "type": "quantitative", "scale": {"domain": [-3.4444, 145.6667], "nice": false, "zero": false}, "axis": null}, "x2": {"datum": 145.6667},
   "y": {"field": "p", "type": "quantitative", "scale": {"domain": [20182.2, 20745.08], "nice": false, "zero": false}, "axis": null}}},
 {"data": {"name": "days"}, "mark": {"type": "text", "align": "left", "baseline": "middle", "dx": 4, "fontSize": 13, "color": "#3a3a3a", "clip": true},
  "encoding": {"x": {"field": "n", "type": "quantitative", "scale": {"domain": [-3.4444, 145.6667], "nice": false, "zero": false}, "axis": null},
   "y": {"datum": 20195.9, "type": "quantitative", "scale": {"domain": [20182.2, 20745.08], "nice": false, "zero": false}, "axis": null}, "text": {"field": "d"}}},
 {"data": {"name": "days"}, "transform": [{"filter": "datum.n > 20"}], "mark": {"type": "text", "align": "left", "baseline": "middle", "dx": 4, "fontSize": 13, "color": "#3a3a3a", "clip": true},
  "encoding": {"x": {"field": "n", "type": "quantitative", "scale": {"domain": [-3.4444, 145.6667], "nice": false, "zero": false}, "axis": null},
   "y": {"datum": 20186.8, "type": "quantitative", "scale": {"domain": [20182.2, 20745.08], "nice": false, "zero": false}, "axis": null}, "text": {"field": "t"}}},
 {"data": {"name": "boxLabels"}, "mark": {"type": "bar", "orient": "horizontal", "size": 14, "fill": "#c6bfb1", "strokeWidth": 1.5},
  "encoding": {"x": {"datum": 137.556, "type": "quantitative", "scale": {"domain": [-3.4444, 145.6667], "nice": false, "zero": false}, "axis": null}, "x2": {"datum": 145.444},
   "y": {"field": "p", "type": "quantitative", "scale": {"domain": [20182.2, 20745.08], "nice": false, "zero": false}, "axis": null},
   "stroke": {"field": "k", "type": "nominal", "scale": {"domain": ["red", "purple"], "range": ["#ff0000", "#8000ff"]}, "legend": null}}},
 {"data": {"name": "boxLabels"}, "mark": {"type": "text", "align": "left", "baseline": "middle", "dx": 4, "fontSize": 12.5, "color": "#303030"},
  "encoding": {"x": {"datum": 137.556, "type": "quantitative", "scale": {"domain": [-3.4444, 145.6667], "nice": false, "zero": false}, "axis": null},
   "y": {"field": "p", "type": "quantitative", "scale": {"domain": [20182.2, 20745.08], "nice": false, "zero": false}, "axis": null}, "text": {"field": "t"}}},
 {"data": {"name": "smallLabels"}, "mark": {"type": "text", "align": "right", "baseline": "bottom", "fontSize": 9, "color": "#3a3a3a"},
  "encoding": {"x": {"datum": 145.444, "type": "quantitative", "scale": {"domain": [-3.4444, 145.6667], "nice": false, "zero": false}, "axis": null},
   "y": {"field": "p", "type": "quantitative", "scale": {"domain": [20182.2, 20745.08], "nice": false, "zero": false}, "axis": null}, "text": {"field": "t"}}},
 {"data": {"values": [{}]}, "mark": {"type": "rect", "fill": "#c6bfb1"},
  "encoding": {"x": {"datum": -3.4444, "type": "quantitative", "scale": {"domain": [-3.4444, 145.6667], "nice": false, "zero": false}, "axis": null}, "x2": {"datum": 153.07},
   "y": {"datum": 20163.26, "type": "quantitative", "scale": {"domain": [20182.2, 20745.08], "nice": false, "zero": false}, "axis": null}, "y2": {"datum": 20150.62}}},
 {"data": {"values": [{}]}, "mark": {"type": "rule", "color": "#4a4a4a", "strokeWidth": 1.5},
  "encoding": {"x": {"datum": 145.6667, "type": "quantitative", "scale": {"domain": [-3.4444, 145.6667], "nice": false, "zero": false}, "axis": null},
   "y": {"datum": 20163.26, "type": "quantitative", "scale": {"domain": [20182.2, 20745.08], "nice": false, "zero": false}, "axis": null}, "y2": {"datum": 20745.08}}},
 {"data": {"name": "yticks"}, "mark": {"type": "rule", "color": "#404040", "strokeWidth": 1},
  "encoding": {"x": {"datum": 145.6667, "type": "quantitative", "scale": {"domain": [-3.4444, 145.6667], "nice": false, "zero": false}, "axis": null}, "x2": {"datum": 146.667},
   "y": {"field": "p", "type": "quantitative", "scale": {"domain": [20182.2, 20745.08], "nice": false, "zero": false}, "axis": null}}},
 {"data": {"name": "yticks"}, "mark": {"type": "text", "align": "left", "baseline": "alphabetic", "dx": 11, "fontSize": 12.5, "color": "#303030"},
  "encoding": {"x": {"datum": 145.6667, "type": "quantitative", "scale": {"domain": [-3.4444, 145.6667], "nice": false, "zero": false}, "axis": null},
   "y": {"field": "p", "type": "quantitative", "scale": {"domain": [20182.2, 20745.08], "nice": false, "zero": false}, "axis": null}, "text": {"field": "t"}}},
 {"data": {"values": [{}]}, "mark": {"type": "bar", "orient": "horizontal", "size": 1.5, "color": "#404040"},
  "encoding": {"x": {"datum": -3.4444, "type": "quantitative", "scale": {"domain": [-3.4444, 145.6667], "nice": false, "zero": false}, "axis": null}, "x2": {"datum": 145.6667},
   "y": {"datum": 20182.2, "type": "quantitative", "scale": {"domain": [20182.2, 20745.08], "nice": false, "zero": false}, "axis": null}}},
 {"data": {"values": [{}]}, "mark": {"type": "bar", "orient": "horizontal", "size": 1.5, "color": "#404040"},
  "encoding": {"x": {"datum": -3.4444, "type": "quantitative", "scale": {"domain": [-3.4444, 145.6667], "nice": false, "zero": false}, "axis": null}, "x2": {"datum": 145.6667},
   "y": {"datum": 20163.6, "type": "quantitative", "scale": {"domain": [20182.2, 20745.08], "nice": false, "zero": false}, "axis": null}}},
 {"data": {"name": "xticks"}, "mark": {"type": "rule", "color": "#303030", "strokeWidth": 1},
  "encoding": {"x": {"field": "n", "type": "quantitative", "scale": {"domain": [-3.4444, 145.6667], "nice": false, "zero": false}, "axis": null},
   "y": {"datum": 20182.2, "type": "quantitative", "scale": {"domain": [20182.2, 20745.08], "nice": false, "zero": false}, "axis": null}, "y2": {"datum": 20177.1}}},
 {"data": {"name": "xticks"}, "mark": {"type": "text", "align": "left", "baseline": "middle", "dx": 1, "fontSize": 13, "color": "#1e1e1e"},
  "encoding": {"x": {"field": "n", "type": "quantitative", "scale": {"domain": [-3.4444, 145.6667], "nice": false, "zero": false}, "axis": null},
   "y": {"datum": 20169.3, "type": "quantitative", "scale": {"domain": [20182.2, 20745.08], "nice": false, "zero": false}, "axis": null}, "text": {"field": "t"}}},
 {"data": {"values": [{"p": 20528, "t": "20528.00"}]}, "mark": {"type": "bar", "orient": "horizontal", "size": 16, "fill": "#333333"},
  "encoding": {"x": {"datum": 145.889, "type": "quantitative", "scale": {"domain": [-3.4444, 145.6667], "nice": false, "zero": false}, "axis": null}, "x2": {"datum": 153.0},
   "y": {"field": "p", "type": "quantitative", "scale": {"domain": [20182.2, 20745.08], "nice": false, "zero": false}, "axis": null}}},
 {"data": {"values": [{"p": 20528}]}, "mark": {"type": "bar", "orient": "horizontal", "size": 7, "fill": "#2e8b2e"},
  "encoding": {"x": {"datum": 145.6667, "type": "quantitative", "scale": {"domain": [-3.4444, 145.6667], "nice": false, "zero": false}, "axis": null}, "x2": {"datum": 146.05},
   "y": {"field": "p", "type": "quantitative", "scale": {"domain": [20182.2, 20745.08], "nice": false, "zero": false}, "axis": null}}},
 {"data": {"values": [{"p": 20528, "t": "20528.00"}]}, "mark": {"type": "text", "align": "left", "baseline": "middle", "dx": 2, "fontSize": 14, "color": "#dedede"},
  "encoding": {"x": {"datum": 145.889, "type": "quantitative", "scale": {"domain": [-3.4444, 145.6667], "nice": false, "zero": false}, "axis": null},
   "y": {"field": "p", "type": "quantitative", "scale": {"domain": [20182.2, 20745.08], "nice": false, "zero": false}, "axis": null}, "text": {"field": "t"}}},
 {"data": {"name": "ylab"}, "mark": {"type": "bar", "orient": "horizontal", "size": 13, "fill": "#fde89a"},
  "encoding": {"x": {"datum": 145.889, "type": "quantitative", "scale": {"domain": [-3.4444, 145.6667], "nice": false, "zero": false}, "axis": null}, "x2": {"datum": 153.0},
   "y": {"field": "p", "type": "quantitative", "scale": {"domain": [20182.2, 20745.08], "nice": false, "zero": false}, "axis": null}}},
 {"data": {"name": "ylab"}, "mark": {"type": "text", "align": "left", "baseline": "middle", "dx": 2, "fontSize": 14, "color": "#c4bdae"},
  "encoding": {"x": {"datum": 145.889, "type": "quantitative", "scale": {"domain": [-3.4444, 145.6667], "nice": false, "zero": false}, "axis": null},
   "y": {"field": "p", "type": "quantitative", "scale": {"domain": [20182.2, 20745.08], "nice": false, "zero": false}, "axis": null}, "text": {"field": "t"}}},
 {"data": {"values": [{}]}, "mark": {"type": "bar", "orient": "horizontal", "size": 106, "fill": "#ffffff", "stroke": "#000000", "strokeWidth": 1},
  "encoding": {"x": {"datum": 1.444, "type": "quantitative", "scale": {"domain": [-3.4444, 145.6667], "nice": false, "zero": false}, "axis": null}, "x2": {"datum": 12.333},
   "y": {"datum": 20658.7, "type": "quantitative", "scale": {"domain": [20182.2, 20745.08], "nice": false, "zero": false}, "axis": null}}},
 {"data": {"name": "ohlc"}, "mark": {"type": "text", "align": "left", "baseline": "middle", "font": "Liberation Mono", "fontSize": 11.5, "color": "#000000"},
  "encoding": {"x": {"datum": 1.889, "type": "quantitative", "scale": {"domain": [-3.4444, 145.6667], "nice": false, "zero": false}, "axis": null},
   "y": {"field": "p", "type": "quantitative", "scale": {"domain": [20182.2, 20745.08], "nice": false, "zero": false}, "axis": null}, "text": {"field": "k"}}},
 {"data": {"name": "ohlc"}, "mark": {"type": "text", "align": "right", "baseline": "middle", "font": "Liberation Mono", "fontSize": 11.5, "color": "#000000"},
  "encoding": {"x": {"datum": 12.0, "type": "quantitative", "scale": {"domain": [-3.4444, 145.6667], "nice": false, "zero": false}, "axis": null},
   "y": {"field": "p", "type": "quantitative", "scale": {"domain": [20182.2, 20745.08], "nice": false, "zero": false}, "axis": null}, "text": {"field": "v"}}},
 {"data": {"name": "blue"}, "mark": {"type": "bar", "orient": "horizontal", "size": 18, "fill": "#4242ff"},
  "encoding": {"x": {"field": "a", "type": "quantitative", "scale": {"domain": [-3.4444, 145.6667], "nice": false, "zero": false}, "axis": null}, "x2": {"field": "b"},
   "y": {"field": "p", "type": "quantitative", "scale": {"domain": [20182.2, 20745.08], "nice": false, "zero": false}, "axis": null}}},
 {"data": {"name": "blue"}, "mark": {"type": "text", "align": "left", "baseline": "middle", "dx": 3, "fontSize": 16, "color": "#ffffff"},
  "encoding": {"x": {"field": "a", "type": "quantitative", "scale": {"domain": [-3.4444, 145.6667], "nice": false, "zero": false}, "axis": null},
   "y": {"field": "p", "type": "quantitative", "scale": {"domain": [20182.2, 20745.08], "nice": false, "zero": false}, "axis": null}, "text": {"field": "t"}}},
 {"data": {"values": [{"n": 80.0, "p": 20721.6, "t": "10-16 10:30"}, {"n": 89.667, "p": 20721.6, "t": "20611.50"}]}, "mark": {"type": "text", "align": "left", "baseline": "middle", "font": "Liberation Serif", "fontWeight": "bold", "fontSize": 15, "color": "#2c2f52"},
  "encoding": {"x": {"field": "n", "type": "quantitative", "scale": {"domain": [-3.4444, 145.6667], "nice": false, "zero": false}, "axis": null},
   "y": {"field": "p", "type": "quantitative", "scale": {"domain": [20182.2, 20745.08], "nice": false, "zero": false}, "axis": null}, "text": {"field": "t"}}},
 {"data": {"values": [{"n": 84.44, "p": 20615.5, "t": "20611.50"}]}, "mark": {"type": "text", "align": "center", "baseline": "middle", "font": "Liberation Serif", "fontWeight": "bold", "fontSize": 15, "color": "#2c2f52"},
  "encoding": {"x": {"field": "n", "type": "quantitative", "scale": {"domain": [-3.4444, 145.6667], "nice": false, "zero": false}, "axis": null},
   "y": {"field": "p", "type": "quantitative", "scale": {"domain": [20182.2, 20745.08], "nice": false, "zero": false}, "axis": null}, "text": {"field": "t"}}},
 {"data": {"values": [{}]}, "mark": {"type": "bar", "orient": "horizontal", "size": 2.5, "fill": "#111111"},
  "encoding": {"x": {"datum": 69.97, "type": "quantitative", "scale": {"domain": [-3.4444, 145.6667], "nice": false, "zero": false}, "axis": null}, "x2": {"datum": 72.2},
   "y": {"datum": 20743.6, "type": "quantitative", "scale": {"domain": [20182.2, 20745.08], "nice": false, "zero": false}, "axis": null}}},
 {"data": {"values": [{}]}, "mark": {"type": "rect", "fill": "#bdb7ab"},
  "encoding": {"x": {"datum": -3.4444, "type": "quantitative", "scale": {"domain": [-3.4444, 145.6667], "nice": false, "zero": false}, "axis": null}, "x2": {"datum": 153.07},
   "y": {"datum": 20761.5, "type": "quantitative", "scale": {"domain": [20182.2, 20745.08], "nice": false, "zero": false}, "axis": null}, "y2": {"datum": 20745.08}}},
 {"data": {"name": "toolbar"}, "mark": {"type": "bar", "orient": "horizontal", "size": 19, "stroke": "#9a9a9a", "strokeWidth": 1},
  "encoding": {"x": {"field": "a", "type": "quantitative", "scale": {"domain": [-3.4444, 145.6667], "nice": false, "zero": false}, "axis": null}, "x2": {"field": "b"},
   "y": {"datum": 20753.41, "type": "quantitative", "scale": {"domain": [20182.2, 20745.08], "nice": false, "zero": false}, "axis": null},
   "fill": {"field": "k", "type": "nominal", "scale": {"domain": ["dk", "lt", "wh", "gg", "ol", "or", "pk", "og", "gr"], "range": ["#9a958e", "#d0ccbf", "#f2f2f2", "#6d8c70", "#c99a2c", "#f3c062", "#f48c8c", "#f2a020", "#22e022"]}, "legend": null}}},
 {"data": {"name": "toolbar"}, "mark": {"type": "text", "align": "left", "baseline": "middle", "dx": 2, "fontSize": 11.5, "color": "#141414"},
  "encoding": {"x": {"field": "a", "type": "quantitative", "scale": {"domain": [-3.4444, 145.6667], "nice": false, "zero": false}, "axis": null},
   "y": {"datum": 20753.41, "type": "quantitative", "scale": {"domain": [20182.2, 20745.08], "nice": false, "zero": false}, "axis": null}, "text": {"field": "t"}}},
 {"data": {"values": [{}]}, "mark": {"type": "bar", "orient": "horizontal", "size": 1, "color": "#707070"},
  "encoding": {"x": {"datum": -3.4444, "type": "quantitative", "scale": {"domain": [-3.4444, 145.6667], "nice": false, "zero": false}, "axis": null}, "x2": {"datum": 153.0},
   "y": {"datum": 20745.46, "type": "quantitative", "scale": {"domain": [20182.2, 20745.08], "nice": false, "zero": false}, "axis": null}}},
 {"data": {"values": [{"t": "M"}]}, "mark": {"type": "bar", "orient": "horizontal", "size": 15, "fill": "#f4f4f4", "stroke": "#9a9a9a", "strokeWidth": 1},
  "encoding": {"x": {"datum": 151.222, "type": "quantitative", "scale": {"domain": [-3.4444, 145.6667], "nice": false, "zero": false}, "axis": null}, "x2": {"datum": 152.667},
   "y": {"datum": 20738.6, "type": "quantitative", "scale": {"domain": [20182.2, 20745.08], "nice": false, "zero": false}, "axis": null}}},
 {"data": {"values": [{"t": "M"}]}, "mark": {"type": "text", "align": "center", "baseline": "middle", "fontSize": 10, "color": "#202020"},
  "encoding": {"x": {"datum": 151.944, "type": "quantitative", "scale": {"domain": [-3.4444, 145.6667], "nice": false, "zero": false}, "axis": null},
   "y": {"datum": 20738.6, "type": "quantitative", "scale": {"domain": [20182.2, 20745.08], "nice": false, "zero": false}, "axis": null}, "text": {"field": "t"}}},
 {"data": {"values": [{}]}, "mark": {"type": "bar", "orient": "horizontal", "size": 20, "fill": "#ffffff", "stroke": "#8a8a8a", "strokeWidth": 1},
  "encoding": {"x": {"datum": -3.333, "type": "quantitative", "scale": {"domain": [-3.4444, 145.6667], "nice": false, "zero": false}, "axis": null}, "x2": {"datum": 28.556},
   "y": {"datum": 20187.6, "type": "quantitative", "scale": {"domain": [20182.2, 20745.08], "nice": false, "zero": false}, "axis": null}}},
 {"data": {"values": [{}]}, "mark": {"type": "bar", "orient": "horizontal", "size": 13, "fill": "#ffffff", "stroke": "#000000", "strokeWidth": 1},
  "encoding": {"x": {"datum": -3.2, "type": "quantitative", "scale": {"domain": [-3.4444, 145.6667], "nice": false, "zero": false}, "axis": null}, "x2": {"datum": -1.9},
   "y": {"datum": 20187.6, "type": "quantitative", "scale": {"domain": [20182.2, 20745.08], "nice": false, "zero": false}, "axis": null}}},
 {"data": {"values": [{"n": -1.556, "t": "Trading Platform by Rithmic™"}, {"n": 16.78, "t": "Powered by OMNE™"}]}, "mark": {"type": "text", "align": "left", "baseline": "middle", "fontSize": 10.5, "color": "#111111"},
  "encoding": {"x": {"field": "n", "type": "quantitative", "scale": {"domain": [-3.4444, 145.6667], "nice": false, "zero": false}, "axis": null},
   "y": {"datum": 20187.6, "type": "quantitative", "scale": {"domain": [20182.2, 20745.08], "nice": false, "zero": false}, "axis": null}, "text": {"field": "t"}}},
 {"data": {"values": [{"n": 15.7}]}, "mark": {"type": "point", "shape": "circle", "size": 70, "stroke": "#111111", "strokeWidth": 2.5, "filled": false},
  "encoding": {"x": {"field": "n", "type": "quantitative", "scale": {"domain": [-3.4444, 145.6667], "nice": false, "zero": false}, "axis": null},
   "y": {"datum": 20187.6, "type": "quantitative", "scale": {"domain": [20182.2, 20745.08], "nice": false, "zero": false}, "axis": null}}},
 {"data": {"values": [{"t": "↑"}]}, "mark": {"type": "text", "align": "center", "baseline": "middle", "fontSize": 11, "fontWeight": "bold", "font": "DejaVu Sans", "color": "#000000"},
  "encoding": {"x": {"datum": -2.55, "type": "quantitative", "scale": {"domain": [-3.4444, 145.6667], "nice": false, "zero": false}, "axis": null},
   "y": {"datum": 20187.6, "type": "quantitative", "scale": {"domain": [20182.2, 20745.08], "nice": false, "zero": false}, "axis": null}, "text": {"field": "t"}}},
 {"data": {"values": [{"t": "R"}]}, "mark": {"type": "text", "align": "center", "baseline": "middle", "font": "Liberation Serif", "fontWeight": "bold", "fontSize": 36, "color": "#1f5aa6"},
  "encoding": {"x": {"datum": -0.9, "type": "quantitative", "scale": {"domain": [-3.4444, 145.6667], "nice": false, "zero": false}, "axis": null},
   "y": {"datum": 20166.3, "type": "quantitative", "scale": {"domain": [20182.2, 20745.08], "nice": false, "zero": false}, "axis": null}, "text": {"field": "t"}}},
 {"data": {"values": [{}]}, "mark": {"type": "bar", "orient": "horizontal", "size": 5, "fill": "#111111"},
  "encoding": {"x": {"datum": -2.4, "type": "quantitative", "scale": {"domain": [-3.4444, 145.6667], "nice": false, "zero": false}, "axis": null}, "x2": {"datum": 1.2},
   "y": {"datum": 20167.4, "type": "quantitative", "scale": {"domain": [20182.2, 20745.08], "nice": false, "zero": false}, "axis": null}}},
 {"data": {"values": [{"n": 2.333, "t": "Chart by Investor/RT, Linn Software, Inc. www.linnsoft.com - MST.NQ.ENTRY."}, {"n": 46.778, "t": "09.26.24: NQZ4 (30m*) 30 Minutes*, Day Session 06:30-13:15 - 2024-10-21 07:08:50"}]},
  "mark": {"type": "text", "align": "left", "baseline": "middle", "fontSize": 11, "color": "#1e1e1e"},
  "encoding": {"x": {"field": "n", "type": "quantitative", "scale": {"domain": [-3.4444, 145.6667], "nice": false, "zero": false}, "axis": null},
   "y": {"datum": 20155.7, "type": "quantitative", "scale": {"domain": [20182.2, 20745.08], "nice": false, "zero": false}, "axis": null}, "text": {"field": "t"}}}
]}
]
}
